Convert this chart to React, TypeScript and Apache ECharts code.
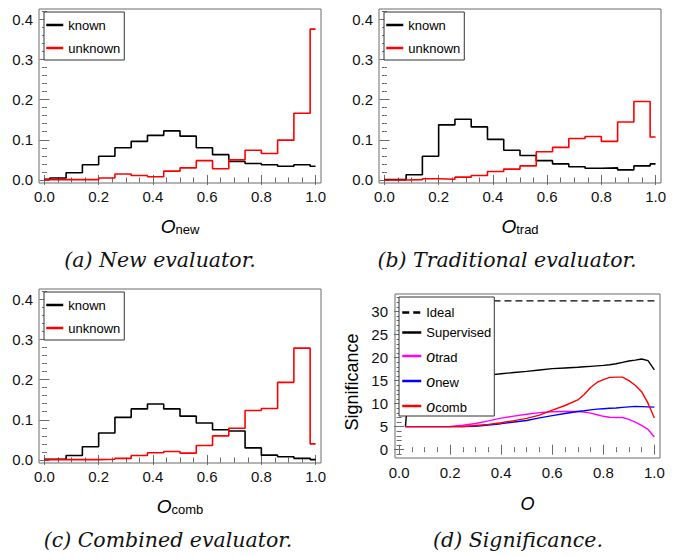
import React, { useEffect, useRef } from "react";
import * as echarts from "echarts";

// ---------- data ----------
const binEdges = [0, 0.02, 0.08, 0.14, 0.2, 0.26, 0.32, 0.38, 0.44, 0.5, 0.56, 0.62, 0.68, 0.74, 0.8, 0.86, 0.92, 0.98];
const binEnd = 1.0;

const newKnown = [0.002, 0.005, 0.018, 0.038, 0.059, 0.08, 0.096, 0.111, 0.122, 0.109, 0.08, 0.063, 0.046, 0.041, 0.038, 0.034, 0.038, 0.034];
const newUnknown = [0.001, 0.001, 0.001, 0.001, 0.005, 0.015, 0.011, 0.008, 0.022, 0.03, 0.048, 0.028, 0.05, 0.074, 0.066, 0.099, 0.166, 0.375];
const tradKnown = [0.001, 0.001, 0.013, 0.059, 0.137, 0.151, 0.132, 0.101, 0.074, 0.061, 0.048, 0.04, 0.033, 0.029, 0.03, 0.025, 0.035, 0.04];
const tradUnknown = [0, 0, 0.001, 0.003, 0.002, 0.007, 0.011, 0.021, 0.027, 0.035, 0.07, 0.081, 0.103, 0.108, 0.096, 0.144, 0.195, 0.107];
const combKnown = [0.002, 0.002, 0.011, 0.033, 0.067, 0.106, 0.127, 0.139, 0.127, 0.109, 0.092, 0.075, 0.072, 0.03, 0.012, 0.008, 0.004, 0.001];
const combUnknown = [0.001, 0.001, 0.001, 0.001, 0.002, 0.004, 0.011, 0.018, 0.021, 0.017, 0.036, 0.06, 0.079, 0.123, 0.128, 0.193, 0.278, 0.04];

const sigX = [0.025, 0.03, 0.05, 0.1, 0.15, 0.2, 0.25, 0.3, 0.35, 0.4, 0.45, 0.5, 0.55, 0.6, 0.65, 0.7, 0.725, 0.75, 0.775, 0.8, 0.825, 0.85, 0.875, 0.9, 0.925, 0.95, 0.975, 1.0];
const idealValue = 32.3;
const supervised = [5.0, 8.5, 13.8, 14.6, 15.0, 15.3, 15.6, 15.9, 16.2, 16.5, 16.75, 17.0, 17.3, 17.6, 17.75, 17.9, 18.0, 18.1, 18.2, 18.3, 18.45, 18.65, 18.95, 19.25, 19.45, 19.7, 19.35, 17.35];
const oTrad = [5.0, 5.0, 5.0, 5.0, 5.0, 5.05, 5.3, 5.7, 6.25, 6.85, 7.3, 7.7, 8.05, 8.25, 8.3, 8.3, 8.15, 7.95, 7.6, 7.25, 7.05, 7.0, 7.0, 6.6, 6.0, 5.3, 4.4, 2.75];
const oNew = [5.0, 5.0, 5.0, 5.0, 5.0, 5.0, 5.0, 5.1, 5.35, 5.65, 6.0, 6.35, 6.9, 7.4, 7.85, 8.3, 8.45, 8.65, 8.8, 8.9, 9.0, 9.05, 9.2, 9.3, 9.4, 9.35, 9.3, 9.25];
const oComb = [5.0, 5.0, 5.0, 5.0, 5.0, 5.0, 5.05, 5.25, 5.5, 5.85, 6.3, 6.8, 7.5, 8.6, 9.6, 10.8, 12.0, 13.5, 14.6, 15.2, 15.7, 15.75, 15.75, 15.0, 14.0, 12.6, 10.1, 6.9];

const xMajorTicks = [0, 0.2, 0.4, 0.6, 0.8, 1.0];
const xMinorTicks = Array.from({ length: 21 }, (_, i) => +(i * 0.05).toFixed(2));
const histYMajor = [0, 0.1, 0.2, 0.3, 0.4];
const histYMinor = Array.from({ length: 22 }, (_, i) => +(i * 0.02).toFixed(2));
const sigYMajor = [0, 5, 10, 15, 20, 25, 30];
const sigYMinor = Array.from({ length: 35 }, (_, i) => i - 1);

const captions = ["(a) New evaluator.", "(b) Traditional evaluator.", "(c) Combined evaluator.", "(d) Significance."];
const xNames = ["new", "trad", "comb"];

// ---------- styling ----------
const FRAME = "#6a6a6a";
const SANS = "Liberation Sans, Arial, sans-serif";
const SERIF = "DejaVu Serif, serif";

const grids = [
  { left: 39, top: 9, width: 282, height: 174 },
  { left: 379, top: 9, width: 282, height: 174 },
  { left: 39, top: 289, width: 282, height: 174 },
  { left: 395, top: 294, width: 265, height: 164 },
];

function axisSet(
  gridIndex: number,
  dim: "x" | "y",
  min: number,
  max: number,
  major: number[],
  minor: number[],
  fmt: (v: number) => string,
  margin: number,
  nameOpts: any
) {
  const pos = dim === "x" ? ["bottom", "bottom", "top", "top"] : ["left", "left", "right", "right"];
  return pos.map((p, k) => {
    const isMajor = k % 2 === 0;
    const ticks = isMajor ? major : minor;
    const ax: any = {
      type: "value",
      gridIndex,
      min,
      max,
      position: p,
      axisLine: { show: false },
      splitLine: { show: false },
      axisTick: {
        show: true,
        inside: true,
        length: isMajor ? 5 : 2.5,
        customValues: ticks,
        lineStyle: { color: FRAME, width: 1 },
      },
      axisLabel:
        k === 0
          ? {
              show: true,
              customValues: major,
              formatter: fmt,
              fontSize: 15,
              fontFamily: SANS,
              color: "#111",
              margin,
            }
          : { show: false, customValues: ticks },
    };
    if (k === 0 && nameOpts) Object.assign(ax, nameOpts);
    return ax;
  });
}

function histSeries(name: string, vals: number[], color: string, g: number) {
  const data = binEdges.map((e, i) => [e, vals[i]]);
  data.push([binEnd, vals[vals.length - 1]]);
  return {
    type: "line",
    name,
    step: "end",
    xAxisIndex: g * 4,
    yAxisIndex: g * 4,
    data,
    symbol: "none",
    lineStyle: { color, width: 1.6 },
    itemStyle: { color },
  };
}

function sigSeries(name: string, vals: number[], color: string) {
  return {
    type: "line",
    name,
    xAxisIndex: 12,
    yAxisIndex: 12,
    data: sigX.map((x, i) => [x, vals[i]]),
    symbol: "none",
    lineStyle: { color, width: 1.4 },
    itemStyle: { color },
  };
}

const nameRich = {
  o: { fontStyle: "italic", fontSize: 19, fontFamily: SANS, lineHeight: 19, verticalAlign: "top", color: "#000" },
  s: { fontSize: 13, fontFamily: SANS, lineHeight: 13, padding: [6, 0, 0, 0], verticalAlign: "bottom", color: "#000" },
};

function histLegend(g: number) {
  const gr = grids[g];
  return {
    show: true,
    orient: "vertical",
    left: gr.left + 5,
    top: gr.top + 3,
    data: ["known", "unknown"],
    backgroundColor: "#fff",
    borderColor: "#333",
    borderWidth: 1,
    borderRadius: 0,
    padding: [6, 4, 5, 1],
    itemGap: 9,
    itemWidth: 17,
    itemHeight: 14,
    lineStyle: { width: 2.5 },
    itemStyle: { opacity: 0 },
    selectedMode: false,
    textStyle: { fontSize: 13, fontFamily: SANS, color: "#000", lineHeight: 14 },
    z: 10,
  };
}

function buildOption() {
  const fmt1 = (v: number) => v.toFixed(1);
  const fmt0 = (v: number) => String(Math.round(v));
  const xAxes: any[] = [];
  const yAxes: any[] = [];
  for (let g = 0; g < 3; g++) {
    xAxes.push(
      ...axisSet(g, "x", -0.02, 1.02, xMajorTicks, xMinorTicks, fmt1, 6, {
        name: `{o|O}{s|${xNames[g]}}`,
        nameLocation: "middle",
        nameGap: 34,
        nameTextStyle: { rich: nameRich },
      })
    );
    yAxes.push(...axisSet(g, "y", -0.0075, 0.425, histYMajor, histYMinor, fmt1, 6, null));
  }
  xAxes.push(
    ...axisSet(3, "x", -0.016, 1.022, xMajorTicks, xMinorTicks, fmt1, 7, {
      name: "O",
      nameLocation: "middle",
      nameGap: 37,
      nameTextStyle: { fontSize: 18, fontStyle: "italic", fontFamily: SANS, color: "#000" },
    })
  );
  yAxes.push(
    ...axisSet(3, "y", -1.8, 33.8, sigYMajor, sigYMinor, fmt0, 7, {
      name: "Significance",
      nameLocation: "middle",
      nameGap: 34,
      nameTextStyle: { fontSize: 18, fontFamily: SANS, color: "#000", padding: [0, 12, 0, 0] },
    })
  );

  const series: any[] = [
    histSeries("known", newKnown, "#000", 0),
    histSeries("unknown", newUnknown, "#ff0000", 0),
    histSeries("known", tradKnown, "#000", 1),
    histSeries("unknown", tradUnknown, "#ff0000", 1),
    histSeries("known", combKnown, "#000", 2),
    histSeries("unknown", combUnknown, "#ff0000", 2),
    {
      type: "line",
      name: "Ideal",
      xAxisIndex: 12,
      yAxisIndex: 12,
      data: [
        [sigX[0], idealValue],
        [sigX[sigX.length - 1], idealValue],
      ],
      symbol: "none",
      lineStyle: { color: "#000", width: 1.4, type: [7, 4] },
      itemStyle: { color: "#000" },
    },
    sigSeries("Supervised", supervised, "#000"),
    sigSeries("o_trad", oTrad, "#ff00ff"),
    sigSeries("o_new", oNew, "#0000ff"),
    sigSeries("o_comb", oComb, "#ff0000"),
  ];

  const captionPos = [
    [160, 260],
    [507, 260],
    [168, 540],
    [518, 540],
  ];

  return {
    animation: false,
    backgroundColor: "#fff",
    grid: grids.map((g) => ({ ...g, show: true, borderColor: FRAME, borderWidth: 1, backgroundColor: "transparent" })),
    xAxis: xAxes,
    yAxis: yAxes,
    legend: [
      histLegend(0),
      histLegend(1),
      histLegend(2),
      {
        show: true,
        orient: "vertical",
        left: 399,
        top: 297,
        data: ["Ideal", "Supervised", "o_trad", "o_new", "o_comb"],
        backgroundColor: "#fff",
        borderColor: "#333",
        borderWidth: 1,
        padding: [9, 3, 2, 2],
        itemGap: 7,
        itemWidth: 19,
        itemHeight: 12,
        lineStyle: { width: 2.5 },
        itemStyle: { opacity: 0 },
        selectedMode: false,
        formatter: (name: string) => (name.startsWith("o_") ? `{o|o}{s|${name.slice(2)}}` : name),
        textStyle: {
          fontSize: 13,
          fontFamily: SANS,
          color: "#000",
          rich: {
            o: { fontStyle: "italic", fontSize: 16, fontFamily: SANS, lineHeight: 16, verticalAlign: "top", color: "#000" },
            s: { fontSize: 13, fontFamily: SANS, lineHeight: 13, padding: [5, 0, 0, 0], verticalAlign: "bottom", color: "#000" },
          },
        },
        z: 10,
      },
    ],
    graphic: captions.map((c, i) => ({
      type: "text",
      x: captionPos[i][0],
      y: captionPos[i][1],
      style: {
        text: c,
        fontSize: 20.5,
        fontFamily: SERIF,
        fontStyle: "italic",
        fill: "#111",
        align: "center",
        verticalAlign: "middle",
        textAlign: "center",
        textVerticalAlign: "middle",
      },
    })),
    series,
  };
}

export default function App() {
  const ref = useRef<HTMLDivElement>(null);
  useEffect(() => {
    if (!ref.current) return;
    const chart = echarts.init(ref.current, undefined, { renderer: "svg" });
    chart.setOption(buildOption() as any);
    return () => chart.dispose();
  }, []);
  return (
    <div
      ref={ref}
      style={{ position: "absolute", left: 0, top: 0, width: 678, height: 556, background: "#fff" }}
    />
  );
}
